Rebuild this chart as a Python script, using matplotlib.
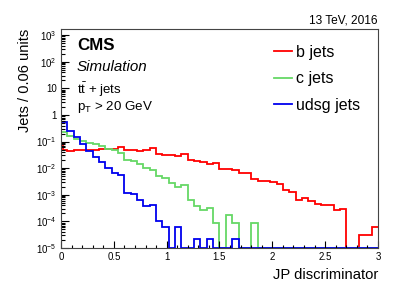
import numpy as np
import matplotlib
matplotlib.use('Agg')
import matplotlib.pyplot as plt
from matplotlib.ticker import FixedLocator, FixedFormatter, MultipleLocator, LogLocator, NullFormatter
from matplotlib.lines import Line2D

plt.rcParams['font.family'] = ['Liberation Sans', 'DejaVu Sans']
plt.rcParams['mathtext.fontset'] = 'custom'
plt.rcParams['mathtext.rm'] = 'Liberation Sans'
plt.rcParams['mathtext.it'] = 'Liberation Sans:italic'
plt.rcParams['mathtext.bf'] = 'Liberation Sans:bold'

# binning: 50 bins of 0.06 between 0 and 3
bin_width = 0.06
n_bins = 50
edges = np.arange(n_bins + 1) * bin_width

# b jets (first bin drawn split at 0.02, as in the reference)
b_edges = np.concatenate([[0.0, 0.02], edges[1:]])
b_jets = [0.071, 0.047,
          0.046, 0.047, 0.048, 0.049, 0.050, 0.051, 0.052, 0.054, 0.065,
          0.050, 0.050, 0.045, 0.047, 0.058, 0.034, 0.032, 0.032, 0.029, 0.035,
          0.0195, 0.019, 0.0165, 0.0146, 0.016, 0.0095, 0.0095, 0.0085, 0.0068, 0.0066,
          0.0038, 0.0033, 0.0032, 0.0029, 0.0026, 0.00145, 0.0013, 0.00066, 0.00077, 0.00057,
          0.00046, 0.00043, 0.00040, 0.00026, 0.00030, 0.0, 0.0, 3.2e-5, 3.2e-5, 6.3e-5]

c_jets = [0.22, 0.16, 0.12, 0.104, 0.090, 0.078, 0.067, 0.054, 0.050, 0.038,
          0.020, 0.018, 0.014, 0.010, 0.0089, 0.0052, 0.0042, 0.0027, 0.0019, 0.0023,
          0.00066, 0.00037, 0.00026, 0.00032, 9e-5, 0.0, 1.7e-4, 9e-5, 0.0, 0.0,
          9e-5, 0.0, 0.0, 0.0, 0.0, 0.0, 0.0, 0.0, 0.0, 0.0,
          0.0, 0.0, 0.0, 0.0, 0.0, 0.0, 0.0, 0.0, 0.0, 0.0]

udsg_jets = [0.54, 0.24, 0.15, 0.08, 0.045, 0.026, 0.017, 0.0103, 0.0066, 0.0057,
             0.0012, 0.00103, 0.00066, 0.00038, 0.00041, 0.000105, 6.2e-5, 0.0, 6.2e-5, 0.0,
             0.0, 2.1e-5, 0.0, 2.1e-5, 0.0, 0.0, 0.0, 2.1e-5, 0.0, 0.0,
             0.0, 0.0, 0.0, 0.0, 0.0, 0.0, 0.0, 0.0, 0.0, 0.0,
             0.0, 0.0, 0.0, 0.0, 0.0, 0.0, 0.0, 0.0, 0.0, 0.0]

labels = ['b jets', 'c jets', 'udsg jets']
colors = ['#ff0000', '#66d866', '#0000ee']

x_ticks = [0, 0.5, 1, 1.5, 2, 2.5, 3]
x_ticklabels = ['0', '0.5', '1', '1.5', '2', '2.5', '3']
y_ticks = [1e-5, 1e-4, 1e-3, 1e-2, 1e-1, 1, 10, 1e2, 1e3]
y_ticklabels = [r'$10^{-5}$', r'$10^{-4}$', r'$10^{-3}$', r'$10^{-2}$', r'$10^{-1}$',
                '1', '10', r'$10^{2}$', r'$10^{3}$']

ymin, ymax = 1e-5, 1.7e3

fig = plt.figure(figsize=(4.07, 2.93), dpi=100)
ax = fig.add_axes([0.1499, 0.1536, 0.7788, 0.7474])

series = [(b_jets, b_edges), (c_jets, edges), (udsg_jets, edges)]
for (vals, e), col in zip(series, colors):
    v = np.clip(np.array(vals), ymin, None)
    ax.stairs(v, e, baseline=None, color=col, lw=1.3)

ax.set_yscale('log')
ax.set_xlim(0, 3)
ax.set_ylim(ymin, ymax)

ax.xaxis.set_major_locator(FixedLocator(x_ticks))
ax.xaxis.set_major_formatter(FixedFormatter(x_ticklabels))
ax.xaxis.set_minor_locator(MultipleLocator(0.1))
ax.yaxis.set_major_locator(FixedLocator(y_ticks))
ax.yaxis.set_major_formatter(FixedFormatter(y_ticklabels))
ax.yaxis.set_minor_locator(LogLocator(base=10, subs=np.arange(2, 10), numticks=100))
ax.yaxis.set_minor_formatter(NullFormatter())

ax.tick_params(which='both', direction='in', labelsize=7, pad=3, width=0.8)
ax.tick_params(axis='x', which='major', length=5)
ax.tick_params(axis='x', which='minor', length=2.5)
ax.tick_params(axis='y', which='major', length=6)
ax.tick_params(axis='y', which='minor', length=3)
for s in ax.spines.values():
    s.set_linewidth(0.8)
    s.set_color('#444444')

ax.set_xlabel('JP discriminator', fontsize=10.6, loc='right')
ax.xaxis.set_label_coords(1.0, -0.091)
ax.set_ylabel('Jets / 0.06 units', fontsize=10.5, loc='top')
ax.yaxis.set_label_coords(-0.0915, 1.0)

ax.text(1.0, 1.027, '13 TeV, 2016', transform=ax.transAxes, ha='right', va='baseline', fontsize=8.6)
ax.text(0.05, 0.904, 'CMS', transform=ax.transAxes, fontsize=12.2, fontweight='bold', va='baseline')
ax.text(0.05, 0.808, 'Simulation', transform=ax.transAxes, fontsize=10.9, style='italic', va='baseline')
ax.text(0.05, 0.703, r'$\mathrm{t\bar{t}}$ + jets', transform=ax.transAxes, fontsize=9.5, va='baseline')
ax.text(0.05, 0.630, r'$\mathrm{p_{T}}$ > 20 GeV', transform=ax.transAxes, fontsize=9.6, va='baseline')

handles = [Line2D([], [], color=c, lw=1.3) for c in colors]
ax.legend(handles, labels, loc='upper left', bbox_to_anchor=(0.647, 0.965), frameon=False,
          fontsize=11.5, handlelength=1.1, handletextpad=0.3, labelspacing=0.72, borderpad=0)

fig.savefig('out.png', dpi=100)
